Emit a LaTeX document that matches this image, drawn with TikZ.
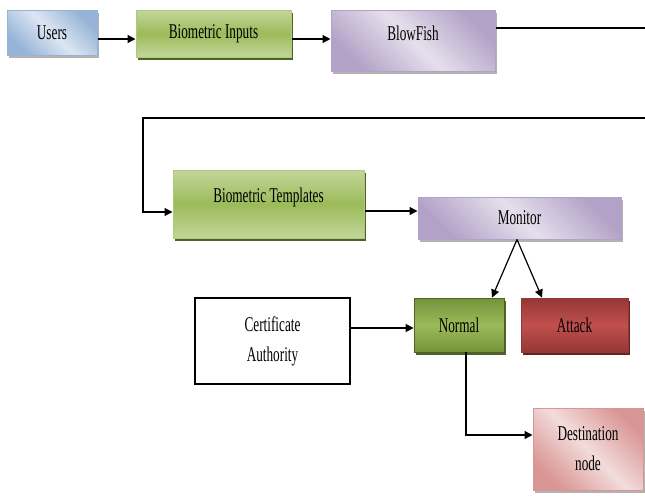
\documentclass[tikz,border=0pt]{standalone}
\usepackage{fontspec}
\setmainfont{Liberation Serif}[FakeStretch=0.63]
\usetikzlibrary{arrows.meta,shadows}
\definecolor{blueL}{HTML}{DCE6F2}
\definecolor{blueD}{HTML}{95B3D7}
\definecolor{greenL}{HTML}{C3D69B}
\definecolor{greenD}{HTML}{9BBB59}
\definecolor{greenS}{HTML}{4F6228}
\definecolor{normD}{HTML}{76923C}
\definecolor{purpL}{HTML}{E5E0EC}
\definecolor{purpD}{HTML}{B3A2C7}
\definecolor{redD}{HTML}{953735}
\definecolor{redL}{HTML}{C0504D}
\definecolor{redS}{HTML}{632523}
\definecolor{pinkL}{HTML}{F2DCDB}
\definecolor{pinkD}{HTML}{D99694}
\tikzset{
	blk/.style={rectangle,inner sep=0pt,align=center,font=\fontsize{21}{30}\selectfont},
	greyshadow/.style={drop shadow={shadow xshift=2pt,shadow yshift=-3pt,fill=gray!60,opacity=1}},
	userbox/.style={blk,draw=blueD,line width=1pt,left color=blueD,right color=blueD,middle color=blueL,shading angle=135,greyshadow},
	greenbox/.style={blk,draw=greenD!80,line width=1pt,top color=greenL,bottom color=greenL,middle color=greenD,drop shadow={shadow xshift=2pt,shadow yshift=-3pt,fill=greenS,opacity=1}},
	purpbox/.style={blk,draw=purpD,line width=1pt,left color=purpD,right color=purpD,middle color=purpL,shading angle=135,greyshadow},
	normbox/.style={blk,draw=greenS,line width=.8pt,top color=normD,bottom color=normD,middle color=greenD,drop shadow={shadow xshift=2pt,shadow yshift=-3pt,fill=greenS,opacity=1}},
	attbox/.style={blk,draw=redD,line width=.8pt,top color=redD,bottom color=redD,middle color=redL,drop shadow={shadow xshift=2pt,shadow yshift=-3pt,fill=redS,opacity=1}},
	destbox/.style={blk,draw=pinkD,line width=1pt,left color=pinkD,right color=pinkD,middle color=pinkL,shading angle=135,greyshadow},
	plainbox/.style={blk,draw=black,line width=1.2pt,fill=white},
	arr/.style={line width=1.2pt,-{Triangle[length=8pt,width=8pt]}}
}
\begin{document}
\begin{tikzpicture}[x=1pt,y=-1pt]
	\useasboundingbox (0,0) rectangle (645,498);
	\clip (0,0) rectangle (645,498);
	\node[userbox,minimum width=90pt,minimum height=45pt] (users) at (52,32.5) {Users};
	\node[greenbox,minimum width=155pt,minimum height=47pt] (bioin) at (213.5,33.5) {Biometric Inputs};
	\node[purpbox,minimum width=164pt,minimum height=61pt,text depth=15pt] (blowfish) at (413,40.5) {BlowFish};
	\node[greenbox,minimum width=191pt,minimum height=68pt,text depth=17pt] (biotemp) at (268.5,204) {Biometric Templates};
	\node[purpbox,minimum width=203pt,minimum height=42pt] (monitor) at (519.5,218) {Monitor};
	\node[plainbox,minimum width=155pt,minimum height=86pt] (ca) at (272.5,341) {Certificate\\Authority};
	\node[normbox,minimum width=90pt,minimum height=54pt] (normal) at (459,325) {Normal};
	\node[attbox,minimum width=107pt,minimum height=54pt] (attack) at (574.5,325) {Attack};
	\node[destbox,minimum width=110pt,minimum height=82pt] (dest) at (588,449) {Destination\\node};
	\draw[arr] (users.east |- 0,39) -- (bioin.west |- 0,39);
	\draw[arr] (bioin.east |- 0,39) -- (blowfish.west |- 0,39);
	\draw[arr] (blowfish.east |- 0,28) -- (650,28) |- (143,118) |- (biotemp.west |- 0,212);
	\draw[arr] (biotemp.east |- 0,211) -- (monitor.west |- 0,211);
	\draw[arr] (monitor.south -| 517,0) -- (normal.north -| 492,0);
	\draw[arr] (monitor.south -| 517,0) -- (attack.north -| 542,0);
	\draw[arr] (ca.east |- 0,328) -- (normal.west |- 0,328);
	\draw[arr] (normal.south -| 466,0) |- (dest.west |- 0,435);
\end{tikzpicture}
\end{document}
